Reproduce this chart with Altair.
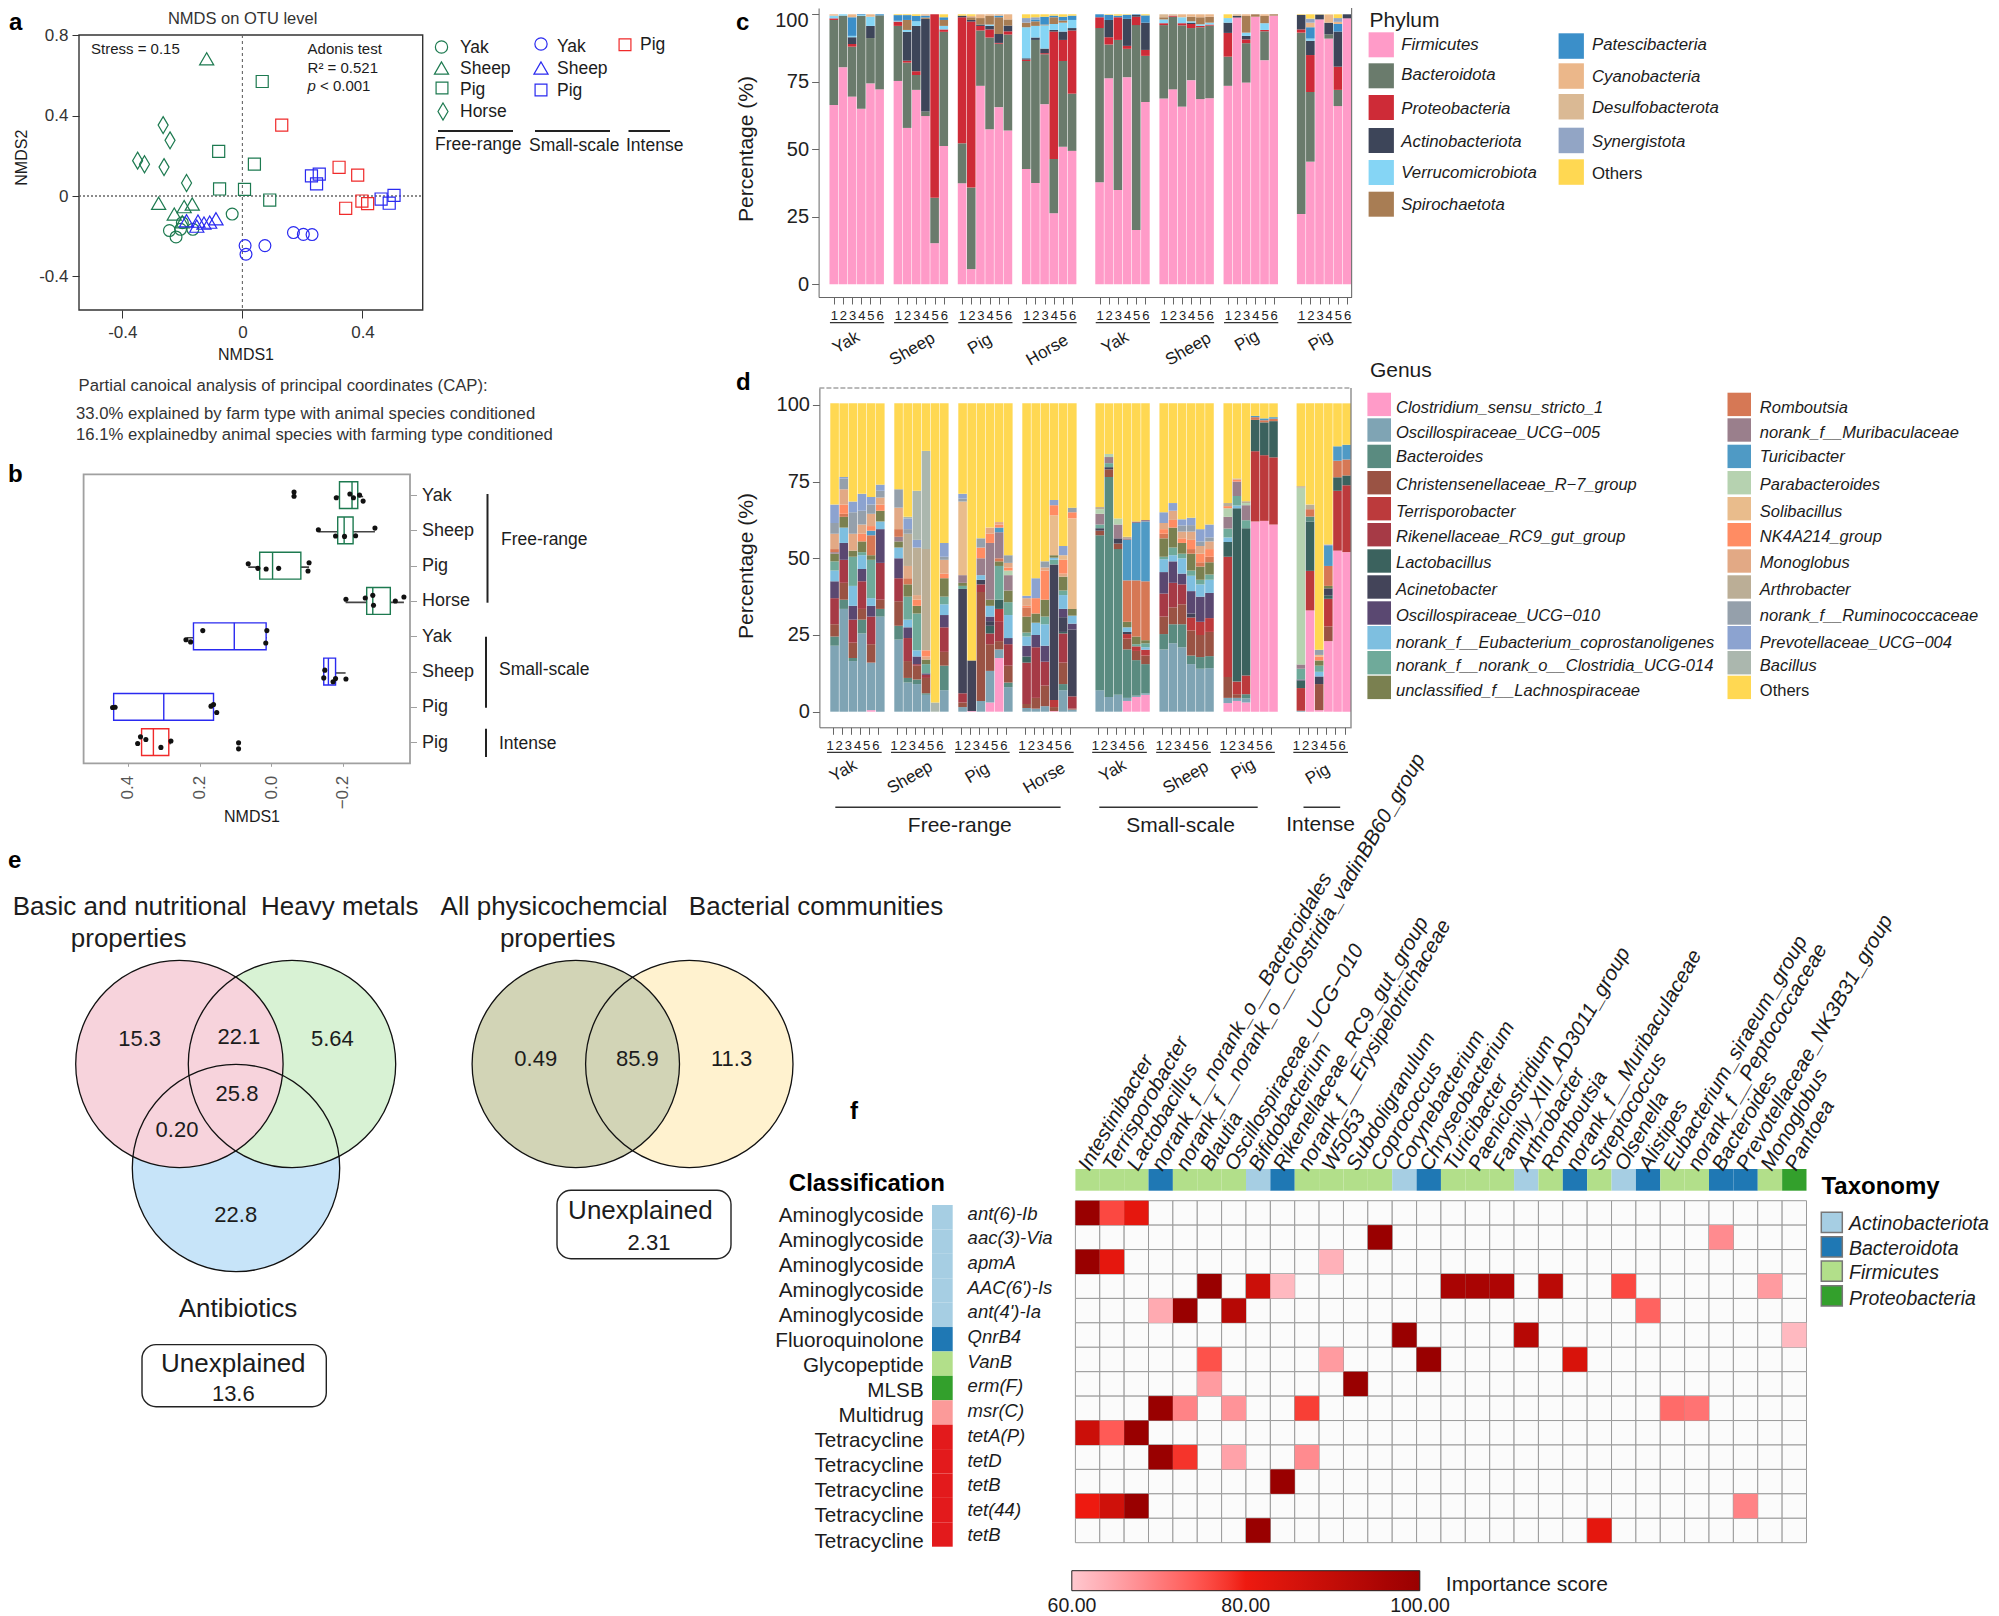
import json
import altair as alt
import pandas as pd

FONT = "Liberation Sans"
W, H = 1983, 1608
DARK = "#1c1c1c"

# ---------- panel a ----------
nmds_species = ["Yak", "Sheep", "Pig", "Horse"]
nmds_farm_colors = {"Free-range": "#1d7a50", "Small-scale": "#2a2af0", "Intense": "#f02a2a"}
nmds_points = {
    ("Free-range", "Yak"): ([-0.034, -0.243, -0.221, -0.206, -0.165, -0.20], [-0.09, -0.172, -0.204, -0.166, -0.166, -0.133]),
    ("Free-range", "Sheep"): ([-0.119, -0.279, -0.227, -0.194, -0.167, -0.20], [0.683, -0.036, -0.09, -0.053, -0.04, -0.128]),
    ("Free-range", "Pig"): ([0.066, -0.079, 0.04, -0.076, 0.007, 0.091], [0.570, 0.222, 0.159, 0.035, 0.033, -0.02]),
    ("Free-range", "Horse"): ([-0.264, -0.241, -0.349, -0.326, -0.261, -0.186], [0.353, 0.277, 0.176, 0.158, 0.144, 0.065]),
    ("Small-scale", "Yak"): ([0.009, 0.012, 0.075, 0.17, 0.203, 0.232], [-0.247, -0.29, -0.247, -0.182, -0.191, -0.192]),
    ("Small-scale", "Sheep"): ([-0.186, -0.152, -0.148, -0.128, -0.109, -0.088], [-0.123, -0.15, -0.125, -0.135, -0.13, -0.113]),
    ("Small-scale", "Pig"): ([0.23, 0.256, 0.247, 0.462, 0.489, 0.505], [0.10, 0.109, 0.06, -0.015, -0.036, 0.003]),
    ("Intense", "Pig"): ([0.131, 0.322, 0.384, 0.344, 0.398, 0.417], [0.353, 0.143, 0.104, -0.061, -0.025, -0.038]),
}

# ---------- panel b ----------
box_rows = ["Yak", "Sheep", "Pig", "Horse", "Yak", "Sheep", "Pig", "Pig"]
box_farm = ["Free-range"] * 4 + ["Small-scale"] * 3 + ["Intense"]
box_q1 = [-0.191, -0.186, 0.032, -0.267, 0.217, -0.147, 0.44, 0.362]
box_med = [-0.226, -0.204, -0.004, -0.284, 0.103, -0.160, 0.300, 0.329]
box_q3 = [-0.242, -0.229, -0.083, -0.333, 0.014, -0.180, 0.161, 0.286]
box_lo = [-0.181, -0.132, 0.064, -0.208, 0.236, -0.147, 0.44, 0.362]
box_hi = [-0.257, -0.290, -0.106, -0.371, 0.012, -0.208, 0.161, 0.28]
box_dots_x = [
    [-0.064, -0.064, -0.182, -0.22, -0.23, -0.247, -0.257],
    [-0.132, -0.18, -0.205, -0.236, -0.29],
    [0.064, 0.037, 0.014, -0.021, -0.103, -0.106],
    [-0.209, -0.263, -0.284, -0.286, -0.347, -0.371],
    [0.238, 0.225, 0.191, 0.012, 0.015],
    [-0.15, -0.147, -0.173, -0.18, -0.209],
    [0.443, 0.436, 0.168, 0.161, 0.152],
    [0.373, 0.365, 0.35, 0.308, 0.28, 0.091, 0.091],
]
box_dots_jit = [
    [-0.085, 0.03, 0.076, -0.03, 0.076, 0, 0.17],
    [-0.02, 0.16, 0.17, 0.15, -0.066],
    [-0.057, 0.075, 0.094, 0.075, 0.15, -0.085],
    [-0.047, -0.085, -0.16, 0.123, 0, -0.113],
    [0.1, 0.16, -0.16, -0.16, 0.19],
    [-0.04, 0.18, 0.29, 0.2, 0.21],
    [0.02, 0.01, -0.02, -0.066, 0.16],
    [0.04, -0.15, -0.075, 0.15, -0.03, 0.02, 0.19],
]

# ---------- panel c ----------
phylum_names = {"F": "Firmicutes", "B": "Bacteroidota", "P": "Proteobacteria", "A": "Actinobacteriota",
                "V": "Verrucomicrobiota", "S": "Spirochaetota", "T": "Patescibacteria", "C": "Cyanobacteria",
                "D": "Desulfobacterota", "Y": "Synergistota", "O": "Others"}
phylum_colors = {"F": "#ff9bc8", "B": "#6a7b6c", "P": "#ce2b37", "A": "#3d4559", "V": "#85d5f5", "S": "#a87d54",
                 "T": "#3b8fc9", "C": "#ebb78a", "D": "#dab994", "Y": "#92a5c5", "O": "#ffd852"}
phylum_fr_yak = ["F66.4 B97.9 P98.5 V99.5 C100", "F80.4 B99.5 V100", "F69.5 B88 P89 A91.5 V92 T98.9 C100",
                 "F65 B99.4 V99.7 T100", "F74.4 B91.2 A95.7 V99.1 C100", "F72.2 B99.6 T100"]
phylum_fr_sheep = ["F75.3 B95.7 P97.3 V97.6 T99.7 O100", "F57.9 B82.1 P82.8 A93.5 V94.2 S97.9 T99.7 O100",
                   "F72 B77.5 P78.9 A95.7 V97.4 T99.4 O100", "F62.3 B64 A98.3 S98.8 T99.5 C100",
                   "F15.2 B32 P100", "F51.2 B93.5 P94.4 V95.7 S97.9 T98.9 O100"]
phylum_fr_pig = ["F37.4 B52.2 P98.9 A99.5 O100", "F5.6 B35.8 P97.3 A97.9 S98.9 C99.4 O100",
                 "F73.5 B94 P95.7 A96.2 S98.6 C100", "F57.4 B91.4 P94.4 A95.7 V96.2 S99.5 C100",
                 "F65.6 B89.1 P89.4 A92.7 S98.9 T99.5 C100", "F56.9 B92.5 P93.7 A95.8 S98.1 C100"]
phylum_fr_horse = ["F42.7 B82.7 P83.2 A83.7 V95.2 S96.9 Y98.6 O100", "F37.5 B90.5 A91.4 V95.7 S97.4 T98.1 Y98.9 O100",
                   "F66.7 B85.2 P85.6 A87.3 V95.9 S96.2 T99.1 O100", "F26.3 B46.4 P93.6 A94.2 V96.4 S98.9 T99.5 O100",
                   "F50.9 B82.7 P90.5 A93.6 V96.9 S97.7 T99.1 O100", "F49.4 B70.6 P94 A94.9 V97.9 T99.5 O100"]
phylum_ss_yak = ["F37.8 B94.9 P98.9 T100", "F76.3 B88.8 P91.5 A97.9 T99.8 O100", "F34.9 B90.5 P98.9 T99.5 O100",
                 "F76.7 B87.2 P88.3 A98.3 T99.8 O100", "F20.1 B96 P99.1 A99.8 T100", "F67.5 B84.6 P86.8 A96.9 T99.6 O100"]
phylum_ss_sheep = ["F68.8 B96 P96.7 V98.1 S98.9 D100", "F72.2 B99.1 P99.5 D100", "F65.8 B95.9 P96.7 V98.9 C100",
                   "F75.6 B94.9 P96.4 A96.9 V97.4 S99.1 C100", "F68.6 B95.2 P95.7 V96.3 S98.9 C100",
                   "F68.9 B95.8 P96.2 V96.9 S99.1 C100"]
phylum_ss_pig = ["F73.5 B84.3 P93.1 A96.9 V98.6 O100", "F98.8 A99.4 D100", "F74.7 B89.3 P90.7 A92 V93.2 S99.4 C100",
                 "F99.1 S100", "F83 B93.7 P94.2 V96.7 S99.4 C100", "F99.5 S100"]
phylum_in_pig = ["F26 B93.2 P94.4 A99.8 O100", "F45.4 B71.2 P84.9 A90.2 V91 T95.2 C96.9 Y98.4 O100", "F98.1 A99.9 O100",
                 "F91 B92.6 A96.9 C99.9 O100", "F66 B72 P80.6 A93.6 T96.4 C97.2 Y98.6 O100", "F98.5 A100"]
phylum_bars = [phylum_fr_yak, phylum_fr_sheep, phylum_fr_pig, phylum_fr_horse,
               phylum_ss_yak, phylum_ss_sheep, phylum_ss_pig, phylum_in_pig]

# ---------- panel d ----------
genus_names = {"a": "Clostridium_sensu_stricto_1", "b": "Oscillospiraceae_UCG\u2212005", "c": "Bacteroides",
               "d": "Christensenellaceae_R\u22127_group", "e": "Terrisporobacter", "f": "Rikenellaceae_RC9_gut_group",
               "g": "Lactobacillus", "h": "Acinetobacter", "i": "Oscillospiraceae_UCG\u2212010",
               "j": "norank_f__Eubacterium_coprostanoligenes", "k": "norank_f__norank_o__Clostridia_UCG-014",
               "l": "unclassified_f__Lachnospiraceae", "m": "Romboutsia", "n": "norank_f__Muribaculaceae",
               "o": "Turicibacter", "p": "Parabacteroides", "q": "Solibacillus", "r": "NK4A214_group",
               "s": "Monoglobus", "t": "Arthrobacter", "u": "norank_f__Ruminococcaceae",
               "v": "Prevotellaceae_UCG\u2212004", "w": "Bacillus", "x": "Others"}
genus_colors = {"a": "#ff9bc8", "b": "#7fa4b4", "c": "#5a8b80", "d": "#9a5344", "e": "#bc3a3c", "f": "#a63a46",
                "g": "#3b625e", "h": "#434459", "i": "#5a4871", "j": "#7ebfe0", "k": "#6faa9a", "l": "#7a8050",
                "m": "#d67855", "n": "#9a7f8c", "o": "#4f9ac5", "p": "#b6d2b0", "q": "#e9bc8c", "r": "#ff8c63",
                "s": "#e2a985", "t": "#bbae96", "u": "#95a0ab", "v": "#8ca3d0", "w": "#abb7ae", "x": "#ffd852"}
genus_fr_yak = ["b21.5 c24.5 d28.5 f37 i42.5 j46 k49 l51.5 n52 m53 s58 u61.5 v67.5",
                "b33.5 c36.5 d42 f49.5 i55 j60 l63.5 m64.5 r67.5 s72.5 u76 v76.5",
                "b16.5 c17.5 d22.5 f30 i34.5 j41 k50.5 l52.5 s58 u65 v68.5",
                "b25.5 c30 d33.5 f42.5 i46.5 j51 k52 l55.5 r58 s61 u65.5 v71",
                "a0.5 b16 d22 f31 i34.5 j37 k49.5 l51 m57.5 o59 r60.5 s64.5 u67.5 v70",
                "b31 c33.5 d36.5 f48.5 i59.5 j62 l65.5 r67.5 s69.8 u72 v74"]
genus_fr_sheep = ["b23.5 c28 d36 f43.5 i50 j53.5 l55.5 n57 m59.5 s66.5 u72.5",
                  "b9.5 c11 d16.5 f24 i27.5 j30 k37.5 l41.5 m43.5 s47.5 t58 u59.5 v63 w63.5",
                  "b9 c10.5 d15 f15.5 i18 j20 k32 l34.5 r36.5 s38 t53.5 v56 w72",
                  "b5.5 c6 d11 f12 i12.5 k15.5 l17 s18 r20 t53 w85",
                  "w3",
                  "b7 c15 d19.5 f27.5 i31.5 j35 k37.5 l43.5 r45 s49.5 u50.5 v55"]
genus_fr_pig = ["b1.5 d3 f6 h40 k41 l42 n44.5 q68.5 u69.5 v71",
                "a0.2 h16.7",
                "b3.5 d39 f41.5 h43 j44.5 n50 r53.5 u56.5",
                "a3 b13.3 d22 f25.5 g28 h29.5 i31 j34.5 l36.5 n55 r58 s60",
                "a17.5 b20.3 d23 f29.5 e33.5 g36.5 k47.5 l49 m50 n58.5 o60 r61 s61.8",
                "b8 c9.5 d15 f22 i24 j31.5 k35.7 l39.5 n44.5 p46 r47 s48.5 u51"]
genus_fr_horse = ["b1.2 d2.5 f16 g18 i21.5 j24.5 k25.8 l31 m34 r34.5 s37 v37.8",
                  "b1 d4.5 f21 i25 j29 l32 r37 v43.5",
                  "b1.8 d8.5 f16.3 i21.5 j28.5 k31 l36.5 r46 s47 u49",
                  "a0.2 d1.5 e3.8 h48 k49.5 j50.2 l51 q64 r67.3 v69",
                  "b7 c9 d16 f25.5 g26 h30.8 i33.5 j38 k39.5 l44 s45 r49.5 q51 v54",
                  "b0.7 d1 f5 h26.8 i28.7 j31.3 l33.5 q63 r65 u66.5"]
genus_ss_yak = ["b7 c57.5 d59 h59.8 k61 n64.5 p66 t66.7",
                "b4.8 c76.5 d79 h79.7 k81 n83 p84",
                "b5.5 c53 d54.8 h56.5 n61 p63",
                "a3.5 b4.5 c20.3 d23.8 e25.3 h26 j27.5 l29.3 m42.8 o56 n56.5 t57",
                "a4.8 b5.2 c16.8 d19.8 e21.3 k22 l24.5 m42.8 o61.5 n62",
                "a5.5 b6 c15.5 d18.3 e20.2 j21 k22.3 l23.3 m42.5 o62 n62.5"]
genus_ss_sheep = ["b20.3 c25.3 d31 f38.5 i45.5 j49.7 k50.5 l56.5 m58 r59.5 s61.5 v65",
                  "b22.3 c28.5 d34 f42 i49 j51 k53.5 l60 r62.5 s65.5 v68",
                  "b21 c28.5 d35 f41.5 i45 j50 k51.5 l55 r56.5 s58.7 u60.7 v62.7",
                  "b15.5 c18.3 d26.5 e30.7 h32 i39.3 j44.3 k46 l51.5 m53 r56 s58.7 u60.8 v63.2",
                  "b14 c17.8 d25 e29.3 i37.5 j41.5 k43 l47.3 m48.7 r51.5 s54 u55.5 v59.5",
                  "b14.2 c18.1 d26 e30.5 i38.7 j43 k44.7 l48.7 m50.5 r53 s55.5 u56.8 v61"]
genus_ss_pig = ["a2.8 b4.5 d11.3 e50.5 g55.3 j56.8 k59.7 n63.5 p66.3 r67 t68",
                "a3.5 b4.5 d5.7 e9.8 g66.3 j67.2 k70.3 n75 r75.7 t76",
                "a3 b4.3 c5.7 e11.8 g59.8 k62.4 n67.3 p68 t68.6",
                "a62 e84.9 g95.1 m96 o96.4",
                "a62.2 e83.6 g94.3 m95 o95.6",
                "a61 e82.9 g94.7 m95.5 o96"]
genus_in_pig = ["b0.3 e7.7 g10.2 i10.5 k14 n15.4 p73 t73.5",
                "a33 e45.9 g62 c63.6 m66 t67.5",
                "a0.5 d9 h11.3 i11.5 j13 k15 l16.7 r18 q18.5 u20.2",
                "a23 d27.8 e36.8 g37.8 h40.2 l41 m47.5 o54 v54.5",
                "a52.5 e72 g76.4 m81.8 o86.5",
                "a52 e73.8 g77 m82.2 o87"]
genus_bars = [genus_fr_yak, genus_fr_sheep, genus_fr_pig, genus_fr_horse,
              genus_ss_yak, genus_ss_sheep, genus_ss_pig, genus_in_pig]

group_starts = [0, 7, 14, 21, 29, 36, 43, 51]
group_names = ["Yak", "Sheep", "Pig", "Horse", "Yak", "Sheep", "Pig", "Pig"]

# ---------- panel f ----------
heat_cols = ["Intestinibacter", "Terrisporobacter", "Lactobacillus", "norank_f__norank_o__Bacteroidales",
             "norank_f__norank_o__Clostridia_vadinBB60_group", "Blautia", "Oscillospiraceae_UCG\u2212010",
             "Bifidobacterium", "Rikenellaceae_RC9_gut_group", "norank_f__Erysipelotrichaceae", "W5053",
             "Subdoligranulum", "Coprococcus", "Corynebacterium", "Chryseobacterium", "Turicibacter",
             "Paeniclostridium", "Family_XIII_AD3011_group", "Arthrobacter", "Romboutsia",
             "norank_f__Muribaculaceae", "Streptococcus", "Olsenella", "Alistipes", "Eubacterium_siraeum_group",
             "norank_f__Peptococcaceae", "Bacteroides", "Prevotellaceae_NK3B31_group", "Monoglobus", "Pantoea"]
heat_tax = list("FFFBFFFABFFFFABFFFAFBFABFFBBFP")
tax_names = {"A": "Actinobacteriota", "B": "Bacteroidota", "F": "Firmicutes", "P": "Proteobacteria"}
tax_colors = {"A": "#a6cee3", "B": "#1f78b4", "F": "#b2df8a", "P": "#33a02c"}
heat_genes = ["ant(6)-Ib", "aac(3)-Via", "apmA", "AAC(6')-Is", "ant(4')-Ia", "QnrB4", "VanB", "erm(F)", "msr(C)",
              "tetA(P)", "tetD", "tetB", "tet(44)", "tetB"]
heat_class = ["Aminoglycoside"] * 5 + ["Fluoroquinolone", "Glycopeptide", "MLSB", "Multidrug"] + ["Tetracycline"] * 5
class_colors = {"Aminoglycoside": "#a6cee3", "Fluoroquinolone": "#1f78b4", "Glycopeptide": "#b2df8a",
                "MLSB": "#33a02c", "Multidrug": "#fb9a99", "Tetracycline": "#e31a1c"}
heat_scores = [
    {0: 100, 1: 76, 2: 82},
    {12: 100, 26: 68},
    {0: 100, 1: 82, 10: 63},
    {5: 100, 7: 88, 8: 62, 15: 96, 16: 96, 17: 95, 19: 92, 22: 76, 28: 66},
    {3: 64, 4: 100, 6: 93, 23: 73},
    {13: 100, 18: 93, 29: 62},
    {5: 75, 10: 66, 14: 100, 20: 85},
    {5: 66, 11: 100},
    {3: 100, 4: 69, 6: 67, 9: 77, 24: 72, 25: 71},
    {0: 88, 1: 74, 2: 100},
    {3: 100, 4: 78, 6: 65, 9: 68},
    {8: 100},
    {0: 80, 1: 87, 2: 100, 27: 69},
    {7: 100, 21: 82},
]

# ---------- helpers: page pixels -> canvas ----------
def R(a, b):
    return [a - 8, b - 8]


def nn(**kw):
    return {k: v for k, v in kw.items() if v is not None}


def px_x(f="px"):
    return alt.X(f"{f}:Q", scale=None, axis=None)


def px_y(f="py"):
    return alt.Y(f"{f}:Q", scale=None, axis=None)


def T(rows, size, color=DARK, style=None, weight=None, align="left", baseline="middle", angle=None):
    df = pd.DataFrame(rows, columns=["t", "px", "py"])
    df["px"] -= 8
    df["py"] -= 7
    return alt.Chart(df).mark_text(font=FONT, fontSize=size, color=color, align=align, baseline=baseline,
                                   **nn(fontStyle=style, fontWeight=weight, angle=angle)).encode(
        x=px_x(), y=px_y(), text="t:N")


def L(rows, color="#222222", width=1.5, dash=None):
    df = pd.DataFrame(rows, columns=["x1", "y1", "x2", "y2"]) - 8
    return alt.Chart(df).mark_rule(color=color, strokeWidth=width, **nn(strokeDash=dash)).encode(
        x=px_x("x1"), x2="x2:Q", y=px_y("y1"), y2="y2:Q")


def Box(rows, stroke="#222222", width=1.3, radius=None):
    df = pd.DataFrame(rows, columns=["x1", "y1", "x2", "y2"]) - 8
    return alt.Chart(df).mark_rect(fillOpacity=0, stroke=stroke, strokeWidth=width, **nn(cornerRadius=radius)).encode(
        x=px_x("x1"), x2="x2:Q", y=px_y("y1"), y2="y2:Q")


def Swatch(rows, stroke=None, width=1.5):
    df = pd.DataFrame(rows, columns=["x1", "y1", "x2", "y2", "c"])
    df[["x1", "y1", "x2", "y2"]] -= 8
    return alt.Chart(df).mark_rect(**nn(stroke=stroke, strokeWidth=width if stroke else None)).encode(
        x=px_x("x1"), x2="x2:Q", y=px_y("y1"), y2="y2:Q", color=alt.Color("c:N", scale=None))


def Sym(rows, shape, size, filled=False, width=1.2):
    df = pd.DataFrame(rows, columns=["px", "py", "c"])
    df[["px", "py"]] -= 8
    ch = alt.Color("c:N", scale=None)
    return alt.Chart(df).mark_point(shape=shape, size=size, filled=filled, opacity=1, strokeWidth=width).encode(
        x=px_x(), y=px_y(), color=ch)


def ax_bottom(y, **kw):
    return alt.Axis(orient="bottom", offset=y - 8 - H, title=None, grid=False, labelFont=FONT, **kw)


def ax_left(x, **kw):
    return alt.Axis(orient="left", offset=-(x - 8), title=None, grid=False, labelFont=FONT, **kw)


def ax_right(x, **kw):
    return alt.Axis(orient="right", offset=(x - 8) - W, title=None, grid=False, labelFont=FONT, **kw)


layers = []

# ---------- panel letters ----------
layers.append(T([("a", 9, 22), ("b", 8, 474), ("c", 736, 22), ("d", 736, 382), ("e", 8, 860), ("f", 850, 1111)],
                24, color="#000000", weight="bold"))

# ---------- panel a ----------
DIAMOND = "M0,-1L0.59,0L0,1L-0.59,0Z"
sx_a = alt.Scale(domain=[-0.5442, 0.6005], range=R(79, 422.7), nice=False, zero=False)
sy_a = alt.Scale(domain=[-0.5675, 0.8015], range=R(310, 35), nice=False, zero=False)
layers.append(Box([(79, 35, 422.7, 310)], stroke="#333333", width=1.4))
zero_df = pd.DataFrame({"v": [0]})
layers.append(alt.Chart(zero_df).mark_rule(color="#666666", strokeDash=[3, 3], strokeWidth=1.1).encode(
    x=alt.X("v:Q", scale=sx_a, axis=None), y=alt.value(35 - 8), y2=alt.value(310 - 8)))
layers.append(alt.Chart(zero_df).mark_rule(color="#666666", strokeDash=[2, 2], strokeWidth=1.3).encode(
    y=alt.Y("v:Q", scale=sy_a, axis=None), x=alt.value(79 - 8), x2=alt.value(422.7 - 8)))
shapes = {"Yak": ("circle", 140), "Sheep": ("triangle-up", 200), "Pig": ("square", 145), "Horse": (DIAMOND, 289)}
first = True
for sp in nmds_species:
    recs = []
    for (farm, s), (xs, ys) in nmds_points.items():
        if s == sp:
            recs += [{"nmds1": x, "nmds2": y, "farm": farm} for x, y in zip(xs, ys)]
    xa = ax_bottom(310, values=[-0.4, 0, 0.4], labelExpr="''+datum.value", labelFontSize=17, labelColor="#333333",
                   tickSize=8, tickColor="#333333", domain=False, labelPadding=6) if first else None
    ya = ax_left(79, values=[-0.4, 0, 0.4, 0.8], labelExpr="''+datum.value", labelFontSize=17, labelColor="#333333",
                 tickSize=7, tickColor="#333333", domain=False, labelPadding=4) if first else None
    first = False
    layers.append(alt.Chart(pd.DataFrame(recs)).mark_point(
        shape=shapes[sp][0], size=shapes[sp][1], filled=False, opacity=1, strokeWidth=1.2).encode(
        x=alt.X("nmds1:Q", scale=sx_a, axis=xa), y=alt.Y("nmds2:Q", scale=sy_a, axis=ya),
        color=alt.Color("farm:N", scale=alt.Scale(domain=list(nmds_farm_colors), range=list(nmds_farm_colors.values())),
                        legend=None)))
G, BL, RD = nmds_farm_colors["Free-range"], nmds_farm_colors["Small-scale"], nmds_farm_colors["Intense"]
layers += [
    Sym([(441.5, 47, G), (541, 44, BL)], "circle", 150),
    Sym([(441.5, 68, G), (541, 68, BL)], "triangle-up", 200),
    Sym([(442, 88, G), (541, 90, BL), (625, 44.7, RD)], "square", 140),
    Sym([(443, 111.5, G)], DIAMOND, 289),
    T([("Yak", 460, 47), ("Sheep", 460, 68), ("Pig", 460, 89), ("Horse", 460, 111), ("Yak", 557, 46),
       ("Sheep", 557, 68), ("Pig", 557, 90), ("Pig", 640, 44),
       ("Free-range", 435, 144), ("Small-scale", 529, 145), ("Intense", 626, 145)], 17.5),
    L([(438, 131, 513, 131), (535, 131, 610, 131), (628.5, 131, 670, 131)], width=2),
    T([("NMDS on OTU level", 242.6, 17.5)], 16.5, color="#333333", align="center"),
    T([("Stress = 0.15", 91, 48), ("Adonis test", 307.6, 48), ("R\u00b2 = 0.521", 307.6, 66.7), ("< 0.001", 320, 85)], 15),
    T([("p", 307.6, 85)], 15, style="italic"),
    T([("NMDS1", 246, 354)], 16, align="center"),
    T([("NMDS2", 22.3, 156.7)], 16, align="center", angle=270),
    T([("Partial canoical analysis of principal coordinates  (CAP):", 78.6, 384.7),
       ("33.0% explained by farm type with animal species conditioned", 76, 413.3),
       ("16.1% explainedby animal species with farming type conditioned", 76, 434.3)], 16.7, color="#333333"),
]

# ---------- panel b ----------
sx_b = alt.Scale(domain=[0.524, -0.388], range=R(83.6, 410), nice=False, zero=False)
sy_b = alt.Scale(domain=[-0.59, 7.6], range=R(474.3, 763.3), nice=False, zero=False)
box_df = pd.DataFrame({"row": range(8), "farm": box_farm, "q1": box_q1, "med": box_med, "q3": box_q3,
                       "lo": box_lo, "hi": box_hi})
box_df["top"] = box_df["row"] - 0.38
box_df["bot"] = box_df["row"] + 0.38
box_df["wy"] = box_df["row"] + 0.04
dots = pd.DataFrame([{"v": x, "y": i + j} for i, (xs, js) in enumerate(zip(box_dots_x, box_dots_jit))
                     for x, j in zip(xs, js)])
farm_color = alt.Color("farm:N", scale=alt.Scale(domain=list(nmds_farm_colors), range=list(nmds_farm_colors.values())),
                       legend=None)
layers.append(Box([(83.6, 474.3, 410, 763.3)], stroke="#a0a0a0", width=1.8))
layers.append(alt.Chart(box_df).mark_rule(color="#444444", strokeWidth=1.6).encode(
    x=alt.X("lo:Q", scale=sx_b, axis=ax_bottom(763.3, values=[0.4, 0.2, 0, -0.2], format=".1f", labelAngle=270,
                                               labelFontSize=17, labelColor="#555555", tickSize=3, tickColor="#a0a0a0",
                                               domain=False, labelPadding=9)),
    x2="hi:Q",
    y=alt.Y("wy:Q", scale=sy_b, axis=ax_right(410, values=list(range(8)),
                                              labelExpr=json.dumps(box_rows) + "[datum.value]", labelFontSize=18,
                                              labelColor="#222222", tickSize=6.5, tickColor="#a0a0a0", domain=False,
                                              labelPadding=5, labelOverlap=False))))
layers.append(alt.Chart(box_df).mark_rect(fill="#ffffff", strokeWidth=1.4).encode(
    x=alt.X("q1:Q", scale=sx_b, axis=None), x2="q3:Q", y=alt.Y("top:Q", scale=sy_b, axis=None), y2="bot:Q",
    stroke=alt.Stroke("farm:N", scale=alt.Scale(domain=list(nmds_farm_colors), range=list(nmds_farm_colors.values())),
                      legend=None)))
layers.append(alt.Chart(box_df).mark_rule(strokeWidth=1.4).encode(
    x=alt.X("med:Q", scale=sx_b, axis=None), y=alt.Y("top:Q", scale=sy_b, axis=None), y2="bot:Q", color=farm_color))
layers.append(alt.Chart(dots).mark_point(shape="circle", filled=True, size=26, color="#111111", opacity=1).encode(
    x=alt.X("v:Q", scale=sx_b, axis=None), y=alt.Y("y:Q", scale=sy_b, axis=None)))
layers += [
    L([(487.5, 494, 487.5, 602.7), (486, 636.7, 486, 707.7), (486, 728.7, 486, 757)], width=2),
    T([("Free-range", 501, 539), ("Small-scale", 499, 669), ("Intense", 499, 742.7)], 17.5),
    T([("NMDS1", 252, 816)], 16, align="center"),
]


# ---------- stacked bars c, d ----------
def stack_table(bars, final_code, final_top):
    rows = []
    for g, group in enumerate(bars):
        for b, spec in enumerate(group):
            prev = 0.0
            for tok in spec.split():
                top = float(tok[1:])
                rows.append({"slot": group_starts[g] + b, "code": tok[0], "lo": prev, "hi": top})
                prev = top
            if final_code and prev < final_top:
                rows.append({"slot": group_starts[g] + b, "code": final_code, "lo": prev, "hi": final_top})
    df = pd.DataFrame(rows)
    df["x0"] = df["slot"] + 0.03
    df["x1"] = df["slot"] + 0.97
    return df


def stacked(df, colors, sx, sy, axis_y, axis_x, ticks_kw, y_expr=None):
    slots = [s + i for s in group_starts for i in range(6)]
    tick_vals = [s + 0.5 for s in slots]
    labels = [str(i + 1) for _ in group_starts for i in range(6)]
    expr = json.dumps(labels) + "[indexof(" + json.dumps(tick_vals) + ",datum.value)]"
    return alt.Chart(df).mark_rect().encode(
        x=alt.X("x0:Q", scale=sx, axis=ax_bottom(axis_y, values=tick_vals, labelExpr=expr, labelFontSize=13,
                                                 labelColor="#222222", tickSize=7, tickColor="#666666",
                                                 domainColor="#666666", labelPadding=5, labelOverlap=False, **ticks_kw)),
        x2="x1:Q",
        y=alt.Y("lo:Q", scale=sy, axis=ax_left(axis_x, values=[0, 25, 50, 75, 100], labelFontSize=20,
                                               labelColor="#222222", tickSize=7, tickColor="#666666",
                                               domainColor="#666666", labelPadding=3, **nn(labelExpr=y_expr))),
        y2="hi:Q",
        color=alt.Color("code:N", scale=alt.Scale(domain=list(colors), range=list(colors.values())), legend=None))


sx_c = alt.Scale(domain=[-1.157, 57], range=R(818.6, 1351.6), nice=False, zero=False)
sy_c = alt.Scale(domain=[-4.74, 102.33], range=R(297, 8), nice=False, zero=False)
sx_d = alt.Scale(domain=[-1.16, 57], range=R(819.4, 1351.2), nice=False, zero=False)
sy_d = alt.Scale(domain=[-5.09, 105.5], range=R(727.3, 388), nice=False, zero=False)
layers.append(stacked(stack_table(phylum_bars, None, 100), phylum_colors, sx_c, sy_c, 297, 818.6, {},
                      y_expr="datum.value == 100 ? '' : ''+datum.value"))
layers.append(T([("100", 808.6, 19.5)], 20, color="#222222", align="right"))
layers.append(stacked(stack_table(genus_bars, "x", 100.5), genus_colors, sx_d, sy_d, 727.3, 819.4,
                      {"tickOffset": -2, "labelOffset": -3}))
layers += [
    L([(1351.6, 8, 1351.6, 297)], color="#777777", width=1.2),
    L([(819.4, 388, 1351, 388)], color="#777777", width=1.2, dash=[5, 2]),
    L([(1351, 388, 1351, 727.3)], color="#777777", width=1.2),
    T([("Percentage (%)", 747, 148), ("Percentage (%)", 747, 565)], 21, align="center", angle=270),
]
groups_df = pd.DataFrame({"g": group_starts})
groups_df["a"] = groups_df["g"] + 0.08
groups_df["b"] = groups_df["g"] + 6.0
layers.append(alt.Chart(groups_df).mark_rule(color="#333333", strokeWidth=1.3).encode(
    x=alt.X("a:Q", scale=sx_c, axis=None), x2="b:Q", y=alt.value(322.7 - 8)))
groups_df2 = pd.DataFrame({"g": group_starts})
groups_df2["a"] = groups_df2["g"] - 0.33
groups_df2["b"] = groups_df2["g"] + 5.65
layers.append(alt.Chart(groups_df2).mark_rule(color="#333333", strokeWidth=1.3).encode(
    x=alt.X("a:Q", scale=sx_d, axis=None), x2="b:Q", y=alt.value(752.3 - 8)))
layers.append(T(list(zip(group_names, [846.3, 912.4, 979.8, 1047.4, 1115.3, 1188.3, 1247, 1320.6],
                         [341.7, 348.3, 343.3, 349.3, 341.7, 348.3, 340, 340])), 17, align="center", angle=330))
layers.append(T(list(zip(group_names, [843.5, 910, 977.3, 1044.3, 1112.8, 1185.9, 1243.3, 1317.7],
                         [770, 776.7, 772.3, 777.3, 770, 776.7, 768.3, 773.3])), 17, align="center", angle=330))
layers += [
    L([(835.3, 807.3, 1060.6, 807.3), (1099.3, 807.3, 1257.7, 807.3), (1303.5, 807.3, 1340.2, 807.3)], color="#333333"),
    T([("Free-range", 959.8, 825.3), ("Small-scale", 1180.6, 825.3), ("Intense", 1320.6, 824)], 21, align="center"),
]

# ---------- legends c, d ----------
ph_tops1 = [32.3, 63.3, 95, 128, 160, 191.7]
ph_tops2 = [33.3, 63.3, 94, 127.7, 159.3]
ph_y1 = [44.3, 73.7, 107.7, 141.3, 172, 204]
ph_y2 = [44.3, 76.3, 107.3, 141.3, 173.3]
ph_col1, ph_col2 = list("FBPAVS"), list("TCDYO")
layers.append(Swatch([(1368.6, y, 1393.9, y + 25, phylum_colors[c]) for y, c in zip(ph_tops1, ph_col1)] +
                     [(1558.6, y, 1583.9, y + 25.5, phylum_colors[c]) for y, c in zip(ph_tops2, ph_col2)]))
layers.append(T([("Phylum", 1369.5, 20)], 21))
layers.append(T([(phylum_names[c], 1401.3, y) for y, c in zip(ph_y1, ph_col1)] +
                [(phylum_names[c], 1592, y) for y, c in zip(ph_y2, ph_col2[:-1])], 16.8, style="italic"))
layers.append(T([("Others", 1592, 173.3)], 16.8))

gn_tops = [392.7, 418.3, 444.7, 471, 497, 523, 549.3, 575.3, 601.3, 626, 651, 675.7]
gn_y1 = [406.7, 432, 456.3, 484.3, 510.7, 536.3, 562.3, 589.3, 615, 641.7, 665, 689.7]
gn_col1, gn_col2 = list("abcdefghijkl"), list("mnopqrstuvwx")
layers.append(Swatch([(1367.4, y, 1391, y + 23.4, genus_colors[c]) for y, c in zip(gn_tops, gn_col1)] +
                     [(1727.5, y, 1751, y + 23.4, genus_colors[c]) for y, c in zip(gn_tops, gn_col2)]))
layers.append(T([("Genus", 1369.9, 370)], 21))
layers.append(T([(genus_names[c], 1396, y) for y, c in zip(gn_y1, gn_col1)] +
                [(genus_names[c], 1759.8, y) for y, c in zip(gn_y1, gn_col2[:-1])], 16.5, style="italic"))
layers.append(T([("Others", 1759.8, 689.7)], 16.5))

# ---------- panel e ----------
VENN_SIZE = 43015
venn_centers = {"anti": (236, 1168), "metal": (292, 1064), "basic": (179.4, 1064),
                "bact": (689.3, 1064), "phys": (575.8, 1064)}
venn_fill = {"anti": "#c7e4f9", "metal": "#d8f2d4", "basic": "#f7d3dc", "bact": "#fff2cf", "phys": "#d2d4b6"}
for k in venn_centers:
    layers.append(Sym([(*venn_centers[k], venn_fill[k])], "circle", VENN_SIZE, filled=True, width=0))
layers.append(Sym([(*venn_centers[k], "#111111") for k in venn_centers], "circle", VENN_SIZE, filled=False, width=1.3))
layers += [
    T([("15.3", 139.6, 1037.5), ("22.1", 238.8, 1036), ("5.64", 332.4, 1038), ("25.8", 237, 1093.4), ("0.20", 177, 1129.3),
       ("22.8", 235.7, 1214.4), ("0.49", 535.7, 1057.9), ("85.9", 637.3, 1057.9), ("11.3", 731.6, 1057.9),
       ("13.6", 233.3, 1393), ("2.31", 649, 1242.1)], 22, align="center"),
    T([("Basic and nutritional", 129.8, 906), ("properties", 128.6, 937.7), ("Heavy metals", 339.8, 906),
       ("All physicochemcial", 554, 906), ("properties", 557.7, 937.7), ("Bacterial communities", 816, 906),
       ("Antibiotics", 238, 1307.6), ("Unexplained", 233.3, 1363.4), ("Unexplained", 640.4, 1209.5)], 26, align="center"),
    Box([(142, 1344.6, 326.3, 1406.7), (557, 1190.3, 731, 1258.7)], radius=14, width=1.4),
]

# ---------- panel f ----------
sx_f = alt.Scale(type="band", domain=heat_cols, range=R(1075.4, 1806.5), paddingInner=0, paddingOuter=0)
sy_f = alt.Scale(type="band", domain=list(range(14)), range=R(1200.7, 1542.7), paddingInner=0, paddingOuter=0)
grid = pd.DataFrame([{"col": c, "row": r} for r in range(14) for c in heat_cols])
cells = pd.DataFrame([{"col": heat_cols[c], "row": r, "score": s}
                      for r, d in enumerate(heat_scores) for c, s in d.items()])
layers.append(alt.Chart(grid).mark_rect(fill="#fbfbfb", stroke="#9a9a9a", strokeWidth=1).encode(
    x=alt.X("col:N", scale=sx_f, axis=None), y=alt.Y("row:O", scale=sy_f, axis=None)))
layers.append(alt.Chart(cells).mark_rect().encode(
    x=alt.X("col:N", scale=sx_f, axis=None), y=alt.Y("row:O", scale=sy_f, axis=None),
    color=alt.Color("score:Q", scale=alt.Scale(domain=[60, 80, 100], range=["#ffc8cf", "#ee1a10", "#990000"]),
                    legend=alt.Legend(orient="none", legendX=1071.8 - 8, legendY=1570.7 - 8, direction="horizontal",
                                      gradientLength=348, gradientThickness=20, gradientStrokeColor="#222222",
                                      gradientStrokeWidth=1, values=[60, 80, 100], title=None,
                                      labelExpr="''", labelFontSize=1))))
layers.append(T([("60.00", 1072, 1604.5), ("80.00", 1245.7, 1604.5), ("100.00", 1420, 1604.5)], 19.5, align="center"))
tax_df = pd.DataFrame({"col": heat_cols, "tax": heat_tax})
layers.append(alt.Chart(tax_df).mark_rect().encode(
    x=alt.X("col:N", scale=sx_f, axis=None), y=alt.value(1169 - 8), y2=alt.value(1190.7 - 8),
    color=alt.Color("tax:N", scale=alt.Scale(domain=list(tax_colors), range=list(tax_colors.values())), legend=None)))
layers.append(alt.Chart(pd.DataFrame({"col": heat_cols})).mark_text(
    font=FONT, fontSize=20.8, fontStyle="italic", angle=300, align="left", baseline="middle", color=DARK, dx=-7).encode(
    x=alt.X("col:N", scale=sx_f, axis=None), y=alt.value(1163 - 8), text="col:N"))
class_df = pd.DataFrame({"row": range(14), "cls": heat_class})
layers.append(alt.Chart(class_df).mark_rect().encode(
    x=alt.value(932 - 8), x2=alt.value(952.7 - 8),
    y=alt.Y("row:O", scale=alt.Scale(type="band", domain=list(range(14)), range=R(1205, 1546.7), paddingInner=0,
                                     paddingOuter=0), axis=None),
    color=alt.Color("cls:N", scale=alt.Scale(domain=list(class_colors), range=list(class_colors.values())), legend=None)))
layers.append(alt.Chart(class_df).mark_text(font=FONT, fontSize=20.7, align="right", baseline="middle", color=DARK).encode(
    x=alt.value(923.7 - 8),
    y=alt.Y("row:O", scale=alt.Scale(type="band", domain=list(range(14)), range=R(1203, 1554.1), paddingInner=0,
                                     paddingOuter=0), axis=None),
    text="cls:N"))
gene_df = pd.DataFrame({"row": range(14), "gene": heat_genes})
layers.append(alt.Chart(gene_df).mark_text(font=FONT, fontSize=18.5, fontStyle="italic", align="left", baseline="middle",
                                           color=DARK).encode(
    x=alt.value(967.6 - 8),
    y=alt.Y("row:O", scale=alt.Scale(type="band", domain=list(range(14)), range=R(1201.2, 1547), paddingInner=0,
                                     paddingOuter=0), axis=None),
    text="gene:N"))
tax_tops = [1212.3, 1236.7, 1261, 1285.7]
tax_y = [1222.7, 1248.3, 1272.3, 1297.7]
layers.append(Swatch([(1821.3, y, 1842.3, y + 20.3, tax_colors[k]) for y, k in zip(tax_tops, tax_colors)],
                     stroke="#777777"))
layers.append(T([(tax_names[k], 1849, y) for y, k in zip(tax_y, tax_colors)], 19.5, style="italic"))
layers.append(T([("Taxonomy", 1821.4, 1186), ("Classification", 788.8, 1183)], 24, color="#000000", weight="bold"))
layers.append(T([("Importance score", 1445.8, 1584.3)], 21))

chart = alt.layer(*layers).resolve_scale(
    x="independent", y="independent", color="independent", stroke="independent"
).properties(width=W, height=H, autosize=alt.AutoSizeParams(type="none"), padding=0).configure_view(stroke=None)

chart.save("out.html", embed_options={"renderer": "svg", "actions": False})
